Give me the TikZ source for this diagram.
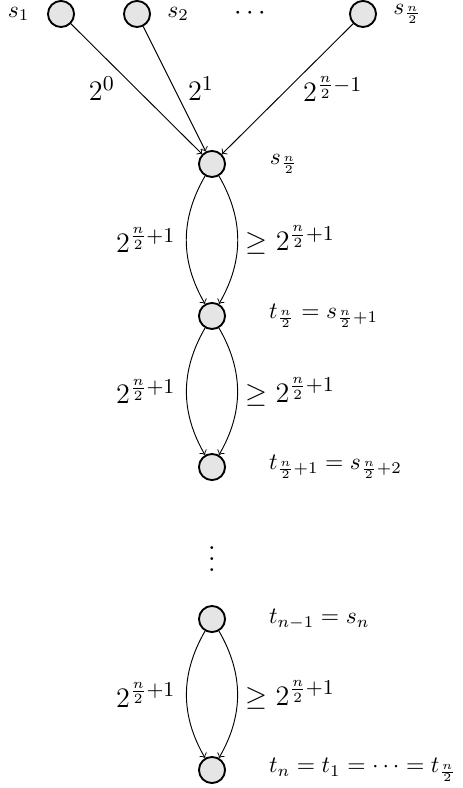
\documentclass[tikz,border=0pt]{standalone}
\usetikzlibrary{positioning}

\begin{document}
\begin{tikzpicture}[
vertex/.style={circle, draw, thick, fill=gray!20, minimum size=0.39cm, inner sep=0pt},
arrow/.style={->},
wlabel/.style={font=\fontsize{13}{16}\selectfont},
dotsnode/.style={scale=1.15}
]
\useasboundingbox (0,0) rectangle (6.906,-11.779);

\node[vertex] (s1) at (0.912,-0.209) {};
\node[vertex] (s2) at (2.048,-0.209) {};
\node[dotsnode] (hd) at (3.737,-0.209) {$\cdots$};
\node[vertex] (sk) at (5.426,-0.209) {};

\node[left=0.14cm of s1] (ls1) {$s_1$};
\node[right=0.12cm of s2] (ls2) {$s_2$};
\node[right=0.12cm of sk] (lsk) {$s_{\frac{n}{2}}$};

\node[vertex] (mid) at (3.169,-2.451) {};
\node[vertex] (t1) at (3.169,-4.723) {};
\node[vertex] (t2) at (3.169,-6.981) {};
\node[dotsnode] (vd) at (3.169,-8.236) {$\vdots$};
\node[vertex] (t3) at (3.169,-9.253) {};
\node[vertex] (tn) at (3.169,-11.510) {};

\node[right=0.53cm of mid] (lmid) {$s_{\frac{n}{2}}$};
\node[right=0.52cm of t1] (lt1) {$t_{\frac{n}{2}} = s_{\frac{n}{2}+1}$};
\node[right=0.52cm of t2] (lt2) {$t_{\frac{n}{2}+1} = s_{\frac{n}{2}+2}$};
\node[right=0.52cm of t3] (lt3) {$t_{n-1} = s_n$};
\node[right=0.52cm of tn] (ltn) {$t_n = t_1 = \cdots = t_{\frac{n}{2}}$};

\draw[arrow] (s1) -- node[wlabel, left=0.2cm] {$2^0$} (mid);
\draw[arrow] (s2) -- node[wlabel, right=0.08cm] {$2^1$} (mid);
\draw[arrow] (sk) -- node[wlabel, right=0.11cm] {$2^{\frac{n}{2}-1}$} (mid);

\draw[arrow] (mid) to[bend right=30] node[wlabel, left=0.04cm] {$2^{\frac{n}{2}+1}$} (t1);
\draw[arrow] (mid) to[bend left=30] node[wlabel, right] {$\geq 2^{\frac{n}{2}+1}$} (t1);

\draw[arrow] (t1) to[bend right=30] node[wlabel, left=0.04cm] {$2^{\frac{n}{2}+1}$} (t2);
\draw[arrow] (t1) to[bend left=30] node[wlabel, right] {$\geq 2^{\frac{n}{2}+1}$} (t2);

\draw[arrow] (t3) to[bend right=30] node[wlabel, left=0.04cm] {$2^{\frac{n}{2}+1}$} (tn);
\draw[arrow] (t3) to[bend left=30] node[wlabel, right] {$\geq 2^{\frac{n}{2}+1}$} (tn);

\end{tikzpicture}
\end{document}
